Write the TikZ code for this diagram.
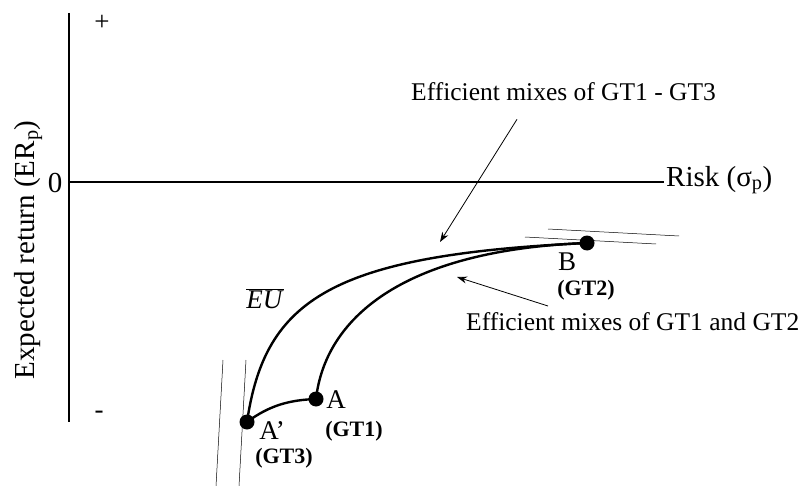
\documentclass[tikz,border=0pt]{standalone}
\usepackage{fontspec}
\setmainfont{Liberation Serif}
\usetikzlibrary{arrows.meta}

\begin{document}
\begin{tikzpicture}[x=1pt, y=-1pt, >={Stealth[length=10pt,width=7pt]},
    lbl/.style={font=\fontsize{25.5}{30}\selectfont, inner sep=0pt},
    axlbl/.style={font=\fontsize{29}{34}\selectfont, inner sep=0pt},
    ptlbl/.style={font=\fontsize{27}{32}\selectfont, inner sep=0pt},
    gt/.style={font=\fontsize{22}{26}\selectfont\bfseries, inner sep=0pt},
    frontier/.style={line width=2.4pt},
    note/.style={->, line width=0.8pt},
    tangent/.style={line width=0.5pt}]
    \useasboundingbox (0,0) rectangle (810,486);

    % axes
    \coordinate (top) at (69,13);
    \coordinate (bottom) at (69,422);
    \coordinate (origin) at (69,182);
    \coordinate (xend) at (664,182);
    \draw[line width=2pt] (top) -- (bottom);
    \draw[line width=2pt] (origin) -- (xend);

    \node[ptlbl] (plus) at (102,23) {+};
    \node[ptlbl] (minus) at (99,415) {-};
    \node[axlbl] (zero) at (55,183) {0};
    \node[axlbl, rotate=90] (ylabel) at (28,250) {Expected return (ER\textsubscript{p})};
    \node[axlbl, anchor=west] (xlabel) at (666,180) {Risk (σ\textsubscript{p})};

    % portfolios
    \coordinate (A) at (316,399);
    \coordinate (A') at (247,422);
    \coordinate (B) at (587,243);

    % tangent lines
    \draw[tangent] (525,237) -- (656,244);
    \draw[tangent] (548,229) -- (679,236);
    \draw[tangent] (223,360) -- (216,486);
    \draw[tangent] (246,360) -- (239,486);

    % frontiers
    \draw[frontier] (A') .. controls (265,300) and (330,255) .. (B);
    \draw[frontier] (A) .. controls (325,320) and (400,250) .. (B);
    \draw[frontier] (A') .. controls (270,405) and (290,400) .. (A);

    \fill (A) circle (7.5pt);
    \fill (A') circle (7.5pt);
    \fill (B) circle (7.5pt);

    \node[ptlbl] (Alab) at (336,400) {A};
    \node[gt] (GT1) at (354,431) {(GT1)};
    \node[ptlbl] (A'lab) at (272,431) {A’};
    \node[gt] (GT3) at (284,458) {(GT3)};
    \node[ptlbl] (Blab) at (567,262) {B};
    \node[gt] (GT2) at (586,290) {(GT2)};
    \node[ptlbl] (EU) at (265,299) {$\overline{\mbox{\textit{EU}}}$};

    % annotations
    \node[lbl, anchor=west] (mix13) at (411,92) {Efficient mixes of GT1 - GT3};
    \node[lbl, anchor=west] (mix12) at (466,322) {Efficient mixes of GT1 and GT2};
    \coordinate (tip13) at (440,242);
    \coordinate (tip12) at (457,277);
    \draw[note] (mix13.south west) ++(106,18) -- (tip13);
    \draw[note] (548,306) -- (tip12);
\end{tikzpicture}
\end{document}
